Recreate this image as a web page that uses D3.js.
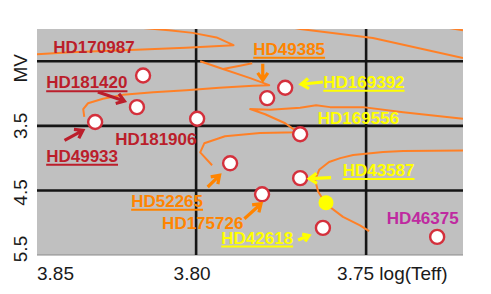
<!DOCTYPE html>
<html>
<head>
<meta charset="utf-8">
<script src="https://cdn.jsdelivr.net/npm/d3@7"></script>
<style>
	body { margin: 0; background: #fff; }
	text { font-family: "Liberation Sans", Arial, sans-serif; }
	.lab { font-weight: bold; font-size: 17px; }
	.tick-lab { font-size: 19px; fill: #1a1a1a; }
</style>
</head>
<body>
<div id="chart"></div>
<script>

// axis ticks
const xTicks = [3.85, 3.80, 3.75];
const xTickLabels = ["3.85", "3.80", "3.75 log(Teff)"];
const yTicks = [2.5, 3.5, 4.5, 5.5];
const yTickLabels = ["MV", "3.5", "4.5", "5.5"];
const xGrid = [3.80, 3.75];
const yGrid = [2.5, 3.5, 4.5];

// stars (log Teff, absolute magnitude)
const starNames = ["HD170987", "HD181420", "HD49933", "HD181906", "HD169392", "HD49385",
	"HD169556", "HD52265", "HD43587", "HD175726", "HD42618", "HD46375"];
const starLogTeff = [3.8156, 3.8174, 3.8297, 3.7997, 3.7738, 3.7791,
	3.7694, 3.7900, 3.7694, 3.7806, 3.7627, 3.7291];
const starMV = [2.72, 3.21, 3.44, 3.39, 2.91, 3.07,
	3.63, 4.08, 4.31, 4.56, 5.08, 5.22];
const sun = [3.7618, 4.69];

// evolutionary tracks [logTeff, MV]
const track1 = [[3.8468, 2.39], [3.837, 2.36], [3.8176, 2.32], [3.803, 2.29], [3.789, 2.25],
	[3.794, 2.13], [3.801, 2.06], [3.808, 2.02], [3.8165, 1.98]];
const track2 = [[3.7724, 1.97], [3.7694, 2.0], [3.748, 2.14], [3.7215, 2.45]];
const track2b = [[3.726, 1.98], [3.7215, 2.02]];
const track3 = [[3.8329, 3.36], [3.8332, 3.24], [3.8318, 3.15], [3.8274, 3.08], [3.8215, 3.02],
	[3.8126, 2.98], [3.8029, 2.95], [3.7932, 2.91], [3.7832, 2.88], [3.7785, 2.87],
	[3.7841, 2.76], [3.7921, 2.62], [3.7988, 2.50]];
const track3b = [[3.7921, 2.62], [3.7871, 2.57], [3.7835, 2.53]];
const track4 = [[3.7953, 4.11], [3.7988, 3.91], [3.7976, 3.77], [3.7915, 3.66], [3.7812, 3.61],
	[3.7700, 3.60], [3.7738, 3.46], [3.7797, 3.32], [3.7841, 3.24], [3.7782, 3.25],
	[3.7694, 3.22], [3.7647, 3.18], [3.7606, 3.21], [3.7509, 3.21], [3.7391, 3.29], [3.7215, 3.39]];
const track5 = [[3.7491, 5.13], [3.7518, 5.04], [3.7568, 4.91], [3.7618, 4.71], [3.7641, 4.52],
	[3.7650, 4.34], [3.7638, 4.18], [3.7609, 4.06], [3.7576, 4.00], [3.7538, 3.95],
	[3.7450, 3.905], [3.7391, 3.89], [3.7215, 3.88]];
const tracks = [track1, track2, track2b, track3, track3b, track4, track5];

// star labels, anchored in data units (start of text, baseline)
const labelText = ["HD170987", "HD181420", "HD181906", "HD49933", "HD49385", "HD169392",
	"HD169556", "HD52265", "HD175726", "HD43587", "HD42618", "HD46375"];
const labelLogTeff = [3.842, 3.8441, 3.8238, 3.8441, 3.7832, 3.7626,
	3.7642, 3.8191, 3.81, 3.7569, 3.7926, 3.7439];
const labelMV = [2.364, 2.921, 3.801, 4.06, 2.403, 2.914,
	3.467, 4.757, 5.093, 4.281, 5.325, 5.015];
const labelGroup = ["red", "red", "red", "red", "orange", "yellow",
	"yellow", "orange", "orange", "yellow", "yellow", "magenta"];
const labelUnderline = [false, true, false, true, true, true,
	false, true, false, true, true, false];

// arrows: from -> to, [logTeff, MV]
const arrowFrom = [[3.8289, 2.976], [3.8387, 3.724], [3.7804, 2.537], [3.7627, 2.821],
	[3.7966, 4.447], [3.7858, 4.938], [3.7603, 4.303], [3.7700, 5.268]];
const arrowTo = [[3.8211, 3.115], [3.8333, 3.569], [3.7804, 2.794], [3.7691, 2.856],
	[3.7931, 4.266], [3.7809, 4.706], [3.7667, 4.318], [3.7668, 5.198]];
const arrowGroup = ["red", "red", "orange", "yellow", "orange", "orange", "yellow", "yellow"];


const colors = {red: "#bb1e2b", orange: "#ff8400", yellow: "#ffff00", magenta: "#bf2aa0"};

const W = 491, H = 294;
const plot = {left: 37, right: 463, top: 29, bottom: 255};

const svg = d3.select("#chart").append("svg")
	.attr("width", W)
	.attr("height", H);

const x = d3.scaleLinear().domain([3.8468, 3.7215]).range([plot.left, plot.right]);
const y = d3.scaleLinear().domain([2.0, 5.5]).range([plot.top, plot.bottom]);

svg.append("clipPath").attr("id", "clip")
	.append("rect")
	.attr("x", plot.left).attr("y", plot.top)
	.attr("width", plot.right - plot.left).attr("height", plot.bottom - plot.top);

// background
svg.append("rect")
	.attr("x", plot.left).attr("y", plot.top)
	.attr("width", plot.right - plot.left).attr("height", plot.bottom - plot.top)
	.attr("fill", "#c0c0c0");
svg.append("line")
	.attr("x1", plot.left).attr("x2", plot.right)
	.attr("y1", plot.bottom).attr("y2", plot.bottom)
	.attr("stroke", "#8a8a8a").attr("stroke-width", 1);

// grid
const grid = svg.append("g").attr("clip-path", "url(#clip)");
grid.selectAll(".vgrid").data(xGrid).enter().append("line")
	.attr("class", "vgrid")
	.attr("x1", d => x(d)).attr("x2", d => x(d))
	.attr("y1", plot.top).attr("y2", plot.bottom)
	.attr("stroke", "#151515").attr("stroke-width", 2.6);
grid.selectAll(".hgrid").data(yGrid).enter().append("line")
	.attr("class", "hgrid")
	.attr("x1", plot.left).attr("x2", plot.right)
	.attr("y1", d => y(d)).attr("y2", d => y(d))
	.attr("stroke", "#151515").attr("stroke-width", 2.6);

// tracks
const line = d3.line().x(d => x(d[0])).y(d => y(d[1]));
svg.append("g").attr("clip-path", "url(#clip)")
	.selectAll("path").data(tracks).enter().append("path")
	.attr("d", line)
	.attr("fill", "none")
	.attr("stroke", "#ff8026")
	.attr("stroke-width", 2)
	.attr("stroke-linejoin", "round");

// stars
const stars = starNames.map((n, i) => ({name: n, t: starLogTeff[i], m: starMV[i]}));
svg.append("g").selectAll("circle").data(stars).enter().append("circle")
	.attr("cx", d => x(d.t))
	.attr("cy", d => y(d.m))
	.attr("r", 7)
	.attr("fill", "#fff")
	.attr("stroke", "#d4303c")
	.attr("stroke-width", 2.4);

// sun
svg.append("circle")
	.attr("cx", x(sun[0])).attr("cy", y(sun[1]))
	.attr("r", 7.5)
	.attr("fill", "#ffff00");

// arrows
const arrowPath = (a, b, head) => {
	let x1 = x(a[0]), y1 = y(a[1]), x2 = x(b[0]), y2 = y(b[1]);
	let ang = Math.atan2(y2 - y1, x2 - x1);
	let p = d3.path();
	p.moveTo(x1, y1);
	p.lineTo(x2, y2);
	p.moveTo(x2 - head * Math.cos(ang - 0.6), y2 - head * Math.sin(ang - 0.6));
	p.lineTo(x2, y2);
	p.lineTo(x2 - head * Math.cos(ang + 0.6), y2 - head * Math.sin(ang + 0.6));
	return p.toString();
};
svg.append("g").selectAll("path").data(arrowFrom).enter().append("path")
	.attr("d", (d, i) => arrowPath(d, arrowTo[i], i === 7 ? 7 : 9))
	.attr("fill", "none")
	.attr("stroke", (d, i) => colors[arrowGroup[i]])
	.attr("stroke-width", 3.2);

// labels
const labs = svg.append("g");
labelText.forEach((t, i) => {
	let lx = x(labelLogTeff[i]), ly = y(labelMV[i]);
	let txt = labs.append("text")
		.attr("class", "lab")
		.attr("x", lx).attr("y", ly)
		.attr("fill", colors[labelGroup[i]])
		.text(t);
	if (labelUnderline[i]) {
		let len = txt.node().getComputedTextLength();
		labs.append("line")
			.attr("x1", lx).attr("x2", lx + len)
			.attr("y1", ly + 2.8).attr("y2", ly + 2.8)
			.attr("stroke", colors[labelGroup[i]])
			.attr("stroke-width", 2);
	}
});

// x tick labels
xTicks.forEach((v, i) => {
	let px = Math.max(x(v), plot.left);
	let t = svg.append("text")
		.attr("class", "tick-lab")
		.attr("y", 280)
		.text(xTickLabels[i]);
	if (i === 0) t.attr("x", px).attr("text-anchor", "start");
	else if (i === 1) t.attr("x", px - 4).attr("text-anchor", "middle");
	else t.attr("x", px - 29).attr("text-anchor", "start");
});

// y tick labels (rotated)
const yNudge = {"MV": 7, "4.5": 2, "5.5": -6};
yTicks.forEach((v, i) => {
	let py = y(v) + (yNudge[yTickLabels[i]] || 0);
	svg.append("text")
		.attr("class", "tick-lab")
		.attr("text-anchor", "middle")
		.attr("transform", "translate(27," + py + ") rotate(-90)")
		.text(yTickLabels[i]);
});

</script>
</body>
</html>
